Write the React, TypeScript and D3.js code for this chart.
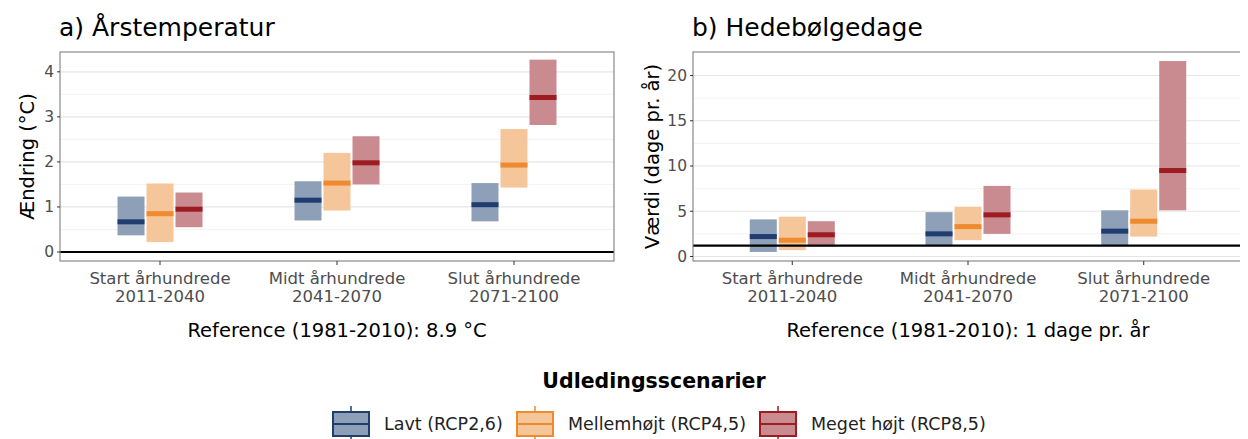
import React from "react";
import * as d3 from "d3";

const periods = ["Start århundrede\n2011-2040", "Midt århundrede\n2041-2070", "Slut århundrede\n2071-2100"];
const scenarios = ["Lavt (RCP2,6)", "Mellemhøjt (RCP4,5)", "Meget højt (RCP8,5)"];
const colors = ["#1f3d6e", "#ee8a2f", "#9c1c22"];
const fills = ["#8e9fb8", "#f6c69b", "#c98b8f"];

const tempLow = [[0.37, 0.7, 0.68], [0.22, 0.92, 1.43], [0.55, 1.5, 2.82]];
const tempMed = [[0.67, 1.15, 1.05], [0.85, 1.53, 1.93], [0.95, 1.98, 3.43]];
const tempHigh = [[1.23, 1.57, 1.53], [1.52, 2.2, 2.73], [1.32, 2.57, 4.27]];
const heatLow = [[0.5, 1.2, 1.2], [0.7, 1.8, 2.2], [1.1, 2.5, 5.1]];
const heatMed = [[2.2, 2.5, 2.8], [1.8, 3.3, 3.9], [2.4, 4.6, 9.5]];
const heatHigh = [[4.1, 4.9, 5.1], [4.4, 5.5, 7.4], [3.9, 7.8, 21.6]];

const FONT = "DejaVu Sans";

function Panel({ x0, x1, title, yLabel, yOff, xLabel, domain, ticks, minor, refLine, low, med, high }: any) {
  const top = 52, bottom = 261;
  const y = d3.scaleLinear().domain(domain).range([bottom, top]);
  const xp = d3.scalePoint().domain(periods).range([x0, x1]).padding(0.565);
  const xs = d3.scalePoint().domain(scenarios).range([-29, 29]);
  const w = 27;
  return (
    <g>
      <text x={x0 - 1} y={36} fontSize={25} fontFamily={FONT} fill="#000">{title}</text>
      {minor.map((v: number) => <line key={"m" + v} x1={x0} x2={x1} y1={y(v)} y2={y(v)} stroke="#f0f0f0" strokeWidth={0.8} />)}
      {ticks.map((v: number) => <line key={"g" + v} x1={x0} x2={x1} y1={y(v)} y2={y(v)} stroke="#e6e6e6" strokeWidth={1.2} />)}
      {periods.map((p, i) => scenarios.map((s, j) => {
        const bx = xp(p)! + xs(s)! - w / 2;
        return (
          <g key={p + s}>
            <rect x={bx} y={y(high[j][i])} width={w} height={y(low[j][i]) - y(high[j][i])} fill={fills[j]} />
            <rect x={bx} y={y(med[j][i]) - 2.5} width={w} height={5} fill={colors[j]} />
          </g>
        );
      }))}
      <line x1={x0} x2={x1} y1={y(refLine)} y2={y(refLine)} stroke="#000" strokeWidth={2.2} />
      <rect x={x0} y={top} width={x1 - x0} height={bottom - top} fill="none" stroke="#7f7f7f" strokeWidth={1.1} />
      {ticks.map((v: number) => (
        <g key={"t" + v}>
          <line x1={x0 - 3} x2={x0} y1={y(v)} y2={y(v)} stroke="#333" />
          <text x={x0 - 6} y={y(v)} dy="0.35em" textAnchor="end" fontSize={15.5} fontFamily={FONT} fill="#4d4d4d">{v}</text>
        </g>
      ))}
      {periods.map((p) => {
        const cx = xp(p)!;
        const [a, b] = p.split("\n");
        return (
          <g key={"x" + p}>
            <line x1={cx} x2={cx} y1={bottom} y2={bottom + 4} stroke="#333" />
            <text x={cx} y={284} textAnchor="middle" fontSize={16.5} fontFamily={FONT} fill="#4d4d4d">{a}</text>
            <text x={cx} y={302} textAnchor="middle" fontSize={16.5} fontFamily={FONT} fill="#4d4d4d">{b}</text>
          </g>
        );
      })}
      <text x={(x0 + x1) / 2} y={337} textAnchor="middle" fontSize={19.5} fontFamily={FONT}>{xLabel}</text>
      <text transform={`translate(${x0 - yOff},${(top + bottom) / 2}) rotate(-90)`} textAnchor="middle" fontSize={19.5} fontFamily={FONT}>{yLabel}</text>
    </g>
  );
}

export default function App() {
  const legendX = [332, 516, 759];
  return (
    <svg width={1232} height={431} style={{ display: "block" }}>
      <g transform="translate(-8,-8)">
        <rect x={0} y={0} width={1248} height={439} fill="#fff" />
        <Panel x0={60} x1={614} title="a) Årstemperatur" yLabel="Ændring (°C)" yOff={26} xLabel="Reference (1981-2010): 8.9 °C"
          domain={[-0.2, 4.44]} ticks={[0, 1, 2, 3, 4]} minor={[0.5, 1.5, 2.5, 3.5]} refLine={0}
          low={tempLow} med={tempMed} high={tempHigh} />
        <Panel x0={693} x1={1243} title="b) Hedebølgedage" yLabel="Værdi (dage pr. år)" yOff={34} xLabel="Reference (1981-2010): 1 dage pr. år"
          domain={[-0.5, 22.6]} ticks={[0, 5, 10, 15, 20]} minor={[2.5, 7.5, 12.5, 17.5]} refLine={1.2}
          low={heatLow} med={heatMed} high={heatHigh} />
        <text x={654} y={388} textAnchor="middle" fontSize={20.5} fontWeight="bold" fontFamily={FONT}>Udledingsscenarier</text>
        {scenarios.map((s, j) => (
          <g key={s} transform={`translate(${legendX[j]},0)`}>
            <line x1={19} x2={19} y1={406} y2={439} stroke={colors[j]} strokeWidth={1.5} />
            <rect x={1} y={412} width={36} height={24} fill={fills[j]} stroke={colors[j]} strokeWidth={2} />
            <line x1={1} x2={37} y1={424} y2={424} stroke={colors[j]} strokeWidth={2} />
            <text x={52} y={424} dy="0.35em" fontSize={17.5} fontFamily={FONT} fill="#222">{s}</text>
          </g>
        ))}
      </g>
    </svg>
  );
}
